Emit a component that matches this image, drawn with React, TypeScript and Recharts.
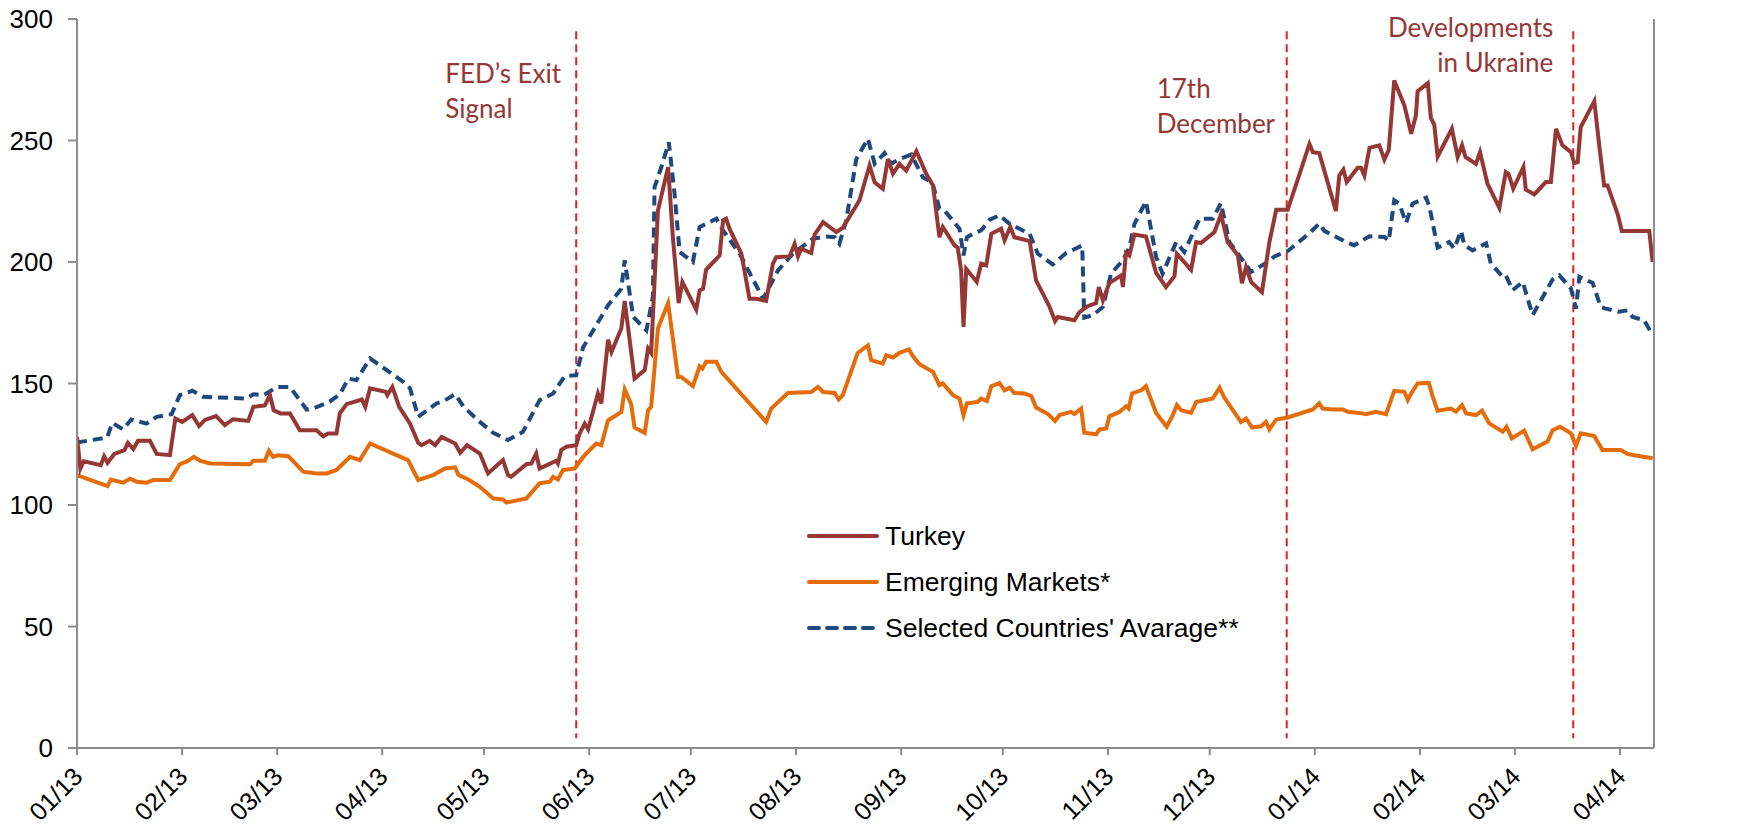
import React from "react";
import { LineChart, Line, XAxis, YAxis, ReferenceLine, Legend } from "recharts";

// day offsets counted from 1 Jan 2013
const monthTicks = [0, 31, 59, 90, 120, 151, 181, 212, 243, 273, 304, 334, 365, 396, 424, 455];
const monthLabels = [
  "01/13", "02/13", "03/13", "04/13", "05/13", "06/13", "07/13", "08/13",
  "09/13", "10/13", "11/13", "12/13", "01/14", "02/14", "03/14", "04/14",
];
const yTicks = [0, 50, 100, 150, 200, 250, 300];

const seriesNames = ["Turkey", "Emerging Markets*", "Selected Countries' Avarage**"];

// [day, index value]
const turkey: [number, number][] = [
  [0, 128], [1, 115], [2, 118], [7, 116.4], [8, 120], [9, 117.4], [11, 121], [14, 122.6], [15, 125.6],
  [16.6, 123], [18, 126.4], [21.5, 126.4], [23.5, 121], [27.4, 120.5], [29, 135.6], [31, 134.2], [34, 137],
  [36, 132.5], [37.7, 135], [41, 136.6], [43.6, 132.9], [46, 135.3], [50.5, 134.6], [52, 140.4], [55.4, 141],
  [56.9, 145.2], [58, 139], [60, 137.7], [62.8, 137.7], [65.7, 130.8], [70.6, 130.8], [72.6, 128.3], [74, 129.4],
  [76.5, 129.4], [77.5, 137.7], [79.5, 141.5], [84, 143.4], [85, 140.4], [86.4, 148], [91, 146.6], [91.5, 145.2],
  [93, 148.6], [95, 140.4], [98.2, 133.5], [100.6, 125.6], [101.6, 124.6], [104, 126.4], [105.6, 124.6],
  [107.5, 128], [111.5, 125.3], [113, 121.5], [115, 124.6], [118.8, 121.2], [121.2, 113], [125.6, 118.5],
  [127.1, 112.3], [128, 111.6], [132.5, 116.8], [134, 117.1], [135.4, 121.2], [136.4, 115], [141.3, 118.2],
  [141.8, 117.1], [142.8, 122.6], [144.3, 124], [147.2, 124.6], [148.2, 129.4], [149.7, 133.5], [150.7, 131.1],
  [153.6, 145.9], [154.6, 141.8], [156.6, 168], [157.6, 163], [160.5, 172.6], [161.5, 184], [164.4, 152],
  [167.4, 155.5], [168.4, 164.4], [169.3, 162.6], [171.3, 221.2], [174.3, 239], [175.7, 210.2], [177.4, 183.1],
  [178.5, 191.8], [182.6, 180.4], [183.6, 188.3], [184.6, 189], [185.5, 196.8], [189.5, 202.7], [190.5, 217.1],
  [191.4, 217.8], [192.4, 213.7], [195.9, 203.4], [198.3, 184.9], [200.3, 184.9], [203.2, 184], [205.2, 199.3],
  [206.2, 202], [210.1, 202.3], [211.6, 207.5], [212.6, 202.3], [213.5, 205.5], [216.5, 203.7], [217.5, 211.3],
  [220, 216.4], [223.9, 212.3], [225.8, 214.1], [230.7, 225.3], [233.7, 239.7], [235.2, 232.8], [237.6, 230.1],
  [239.1, 242.4], [240.6, 236.3], [242.5, 240.4], [244.5, 237.6], [247.5, 245.6], [250.4, 236.3], [252.4, 231.5],
  [254.3, 210.2], [255.3, 214.4], [258.8, 206.8], [259.7, 205.9], [260.7, 196.5], [261.4, 173.3], [262.2, 197.2],
  [265.3, 191.8], [266.6, 199.3], [268.1, 198.6], [269.6, 211.6], [272.5, 213.7], [273.5, 208.9], [275.2, 214.4],
  [276.4, 210.2], [280.9, 208.6], [282.8, 192.4], [286.7, 181.8], [288.4, 175.7], [289.2, 177.4], [294.1, 176],
  [295.6, 179.4], [298, 181.8], [300.5, 183.1], [301.3, 189.7], [302.5, 184.2], [304.4, 191.3], [307.9, 194.5],
  [308.4, 189.7], [309.3, 203.7], [310.3, 202.7], [311.8, 211.3], [315.2, 210.5], [318.2, 195.5], [321.1, 189.7],
  [323.6, 194.1], [324.3, 203.4], [328.5, 196.8], [330, 208.2], [331.4, 207.8], [335.4, 212.3], [337.3, 219.6],
  [339.3, 208.2], [342.3, 202.7], [343.5, 191.3], [344.7, 197.9], [346.2, 191.8], [349.4, 187.6], [351.6, 208.2],
  [353.6, 221.5], [357, 221.5], [363.4, 248.6], [364.4, 245.2], [366.3, 244.8], [371.2, 221], [372.2, 235.6],
  [373.4, 238], [374.4, 232.9], [377.6, 238.8], [378.6, 238.8], [379.6, 235.6], [381.1, 247], [384, 248],
  [385.5, 242.1], [386.8, 246.2], [388.4, 274.7], [391.4, 264.4], [393.4, 252.8], [394.8, 260.3], [395.3, 270.3],
  [398.3, 273.6], [399.2, 259.3], [400.2, 256.6], [401.2, 243.4], [405.4, 254.8], [407.1, 243.2], [408.4, 248],
  [409.4, 243.2], [412.5, 240.4], [413.7, 245.2], [415.9, 232.2], [419.4, 222.3], [421.3, 237], [422.1, 236.3],
  [423.5, 230.2], [426.5, 239.1], [427.2, 229.8], [429.7, 227.8], [433.1, 232.9], [434.6, 232.9], [436.1, 254.8],
  [438, 248], [440.5, 245.2], [441.5, 240.7], [442.5, 241.1], [443.4, 255.5], [447.4, 266.2], [448.9, 247.3],
  [450.3, 231.5], [451.3, 231.5], [454.3, 219.6], [455.5, 212.8], [463.6, 212.8], [464.6, 200],
];

const emerging: [number, number][] = [
  [0, 112.3], [9, 107.8], [10, 110.5], [13.6, 109.2], [15.6, 110.8], [17.6, 109.6], [20.5, 109.2], [22.5, 110.3],
  [27.4, 110.3], [30.3, 116.8], [32.3, 117.8], [34.5, 119.8], [36.2, 118.2], [39.2, 117.1], [51, 116.8],
  [52, 118.2], [55.4, 118.2], [56.6, 122.3], [57.8, 119.8], [59.3, 120.5], [62.3, 120.1], [66.7, 113.7],
  [70.6, 113], [73.6, 113], [76.5, 114.4], [80.5, 119.8], [83.4, 118.5], [86.4, 125.3], [97.6, 118.5],
  [100.6, 110.3], [105, 112.3], [108.5, 115], [111.5, 115.5], [112.5, 112.3], [115.4, 110.5], [118.8, 107.5],
  [122.7, 102.7], [125.6, 102.3], [126.6, 101], [132.5, 102.7], [136.4, 108.9], [139.4, 109.6], [140.4, 111.6],
  [141.8, 110.5], [143.3, 114.4], [146.7, 115], [149.7, 120.5], [153.1, 125.3], [154.6, 124.6], [156.6, 134.9],
  [160.5, 138.3], [161.5, 147.5], [163.4, 141.5], [164.4, 131.9], [167.4, 129.7], [168.4, 139], [169.3, 140.4],
  [171.3, 172.6], [174.3, 183.1], [177.2, 152.7], [178.2, 152.7], [181.6, 148.9], [183.6, 157.1], [184.4, 156.1],
  [185.5, 158.9], [188.5, 158.9], [190, 154.8], [203.2, 134.2], [204.7, 139.7], [209.6, 146.1], [216.5, 146.5],
  [218.5, 148.6], [220, 146.5], [223.4, 146.1], [224.6, 143.4], [225.8, 145.2], [230.2, 162.6], [233.2, 165.7],
  [234.2, 159.6], [237.6, 158.2], [238.6, 161.6], [240.6, 160.7], [242.5, 162.6], [245.3, 164], [246.5, 161.2],
  [248.4, 157.9], [252.4, 154.8], [254.3, 149.3], [255.3, 150], [258.3, 145.2], [260.2, 143.8], [261.4, 137],
  [262.4, 141.8], [265.6, 142.4], [266.6, 143.8], [268.3, 142.8], [269.6, 148.9], [272, 150.2], [273.5, 147.2],
  [275, 148.3], [276.4, 146.1], [279.4, 145.9], [281.4, 144.8], [282.8, 140.1], [286.3, 137.4], [288.4, 134.6],
  [289.7, 137], [293.1, 138.3], [294.1, 137.4], [296.1, 139.7], [297, 129.7], [300.5, 129.1], [301.5, 131.1],
  [303.5, 131.5], [304.4, 136.5], [307.4, 138.3], [309.3, 140.7], [310.1, 139.7], [311.1, 145.9], [313.8, 147.2],
  [315.2, 148.9], [318.2, 137.9], [321.3, 132.2], [323.1, 137], [324.3, 141.1], [325.6, 139], [328.5, 137.9],
  [330, 142.4], [334.9, 143.8], [336.9, 148.3], [338.3, 144.2], [343.2, 134.2], [344.7, 135.6], [346.5, 131.9],
  [349.1, 132.4], [350.6, 134.2], [351.6, 131.1], [353.6, 135.2], [357, 136], [364.4, 139.3], [366.3, 141.8],
  [367.3, 139.7], [370.3, 139.3], [373.2, 139.3], [374.7, 138.4], [378.1, 137.9], [380.1, 137.4], [383, 138.4],
  [386, 137.4], [388.4, 147], [391.4, 146.6], [392.4, 143.2], [393.4, 145.9], [395.3, 150], [398.6, 150.3],
  [399.7, 144.8], [401.2, 138.8], [405.1, 139.7], [406.6, 138.4], [408.4, 141.1], [409.6, 137.7], [412.5, 137],
  [414.3, 138.8], [416.4, 133.6], [420.4, 130.2], [421.5, 132.2], [423.1, 127.4], [426.7, 130.6], [429.2, 122.9],
  [433.6, 126.1], [435.1, 130.8], [437.3, 132.2], [440.5, 129.5], [442, 124.3], [443.4, 129.5], [447.4, 128.4],
  [449.8, 122.6], [455.2, 122.6], [457.2, 121], [458.7, 120.6], [464.6, 119.2],
];

const selected: [number, number][] = [
  [0, 125.7], [8.9, 127.8], [10.4, 133.8], [13.6, 131.1], [16, 135.2], [20.5, 133.5], [23.5, 136.3], [27.9, 137.4],
  [30.3, 145.2], [34, 147], [37.2, 144.5], [50, 143.8], [52, 145.6], [55, 145.2], [59, 148.6], [62.8, 148.6],
  [67.7, 139.3], [69.6, 139.7], [74.5, 142.5], [77.5, 145.6], [80, 152], [82.4, 151.4], [86.4, 160.3],
  [96.2, 150.7], [98.2, 148], [100.6, 136.3], [106, 141.8], [108.5, 143.1], [111.5, 145.6], [114, 140.4],
  [118.8, 134.2], [122.7, 129.7], [127.1, 126.7], [131.5, 130.1], [136.4, 143.1], [140.4, 145.9], [143.8, 153],
  [147.2, 153.4], [149.2, 164.8], [153.1, 174], [156.6, 182.2], [160.5, 189], [161.5, 200.7], [164, 177.4],
  [167.9, 171.9], [169.8, 185.6], [170.3, 230.8], [172.3, 239], [174.5, 249.3], [176.2, 228.1], [177.7, 204.1],
  [181.6, 200], [183.6, 214.4], [188.5, 217.8], [190.5, 213], [195.4, 203.4], [202.3, 184.9], [206.7, 196.5],
  [211.1, 203.4], [217, 209.6], [220.9, 210.5], [223.4, 210.2], [224.8, 207.5], [226.8, 217.1], [229.8, 242.4],
  [233.2, 250.7], [235.2, 240.4], [238.1, 244.8], [240.1, 240.4], [242.5, 242.4], [246, 244.2], [249.4, 234.9],
  [252.2, 232.8], [254.3, 221.9], [255.8, 221.2], [260.2, 213.7], [261.4, 202.7], [262.4, 210.2], [264.2, 211.6],
  [266.6, 213], [269.1, 217.4], [272, 219.2], [275, 215.7], [280.9, 211.6], [283.3, 203.4], [287.7, 199],
  [291.7, 203.7], [296.4, 206.8], [297, 177.1], [299.5, 178.1], [302.5, 181.5], [304.9, 195.2], [308.4, 200.7],
  [310.3, 205.9], [311.8, 215.7], [315.2, 225], [318.2, 202], [320.1, 195.2], [324.1, 208.2], [326.5, 204.1],
  [331, 217.8], [334.9, 217.8], [337.3, 224.2], [339.8, 208.2], [342.7, 202.7], [346.2, 195.9], [351.1, 200],
  [353.1, 202.3], [357, 204.5], [363.4, 211.9], [366.3, 215.8], [367.8, 212.8], [374.2, 208.2], [376.6, 206.9],
  [381.1, 210.6], [385.5, 210.3], [386.8, 208.7], [388.4, 225.4], [389.9, 224], [391.9, 216.1], [393.8, 224],
  [397.8, 226.5], [398.8, 222.6], [401.2, 205.9], [404.6, 208.2], [406.1, 205.5], [408.1, 212.8], [409.1, 206.9],
  [411.5, 204.8], [415.5, 207.6], [416.9, 199.3], [420.4, 193.9], [421.3, 194.5], [423.3, 188.4], [426.3, 191.8],
  [429.2, 178.1], [435.1, 192.8], [437.1, 194.5], [440.5, 189.1], [442, 180.8], [443, 193.9], [446.9, 191.4],
  [449.3, 181.5], [450.8, 180.8], [454.7, 179.5], [457.2, 180.1], [458.7, 177.4], [462.1, 176], [464.6, 169.9],
];

// event markers: day offset and the text shown next to each
const eventDays = [147.2, 356.7, 441.2];
const eventTexts = [
  ["FED’s Exit", "Signal"],
  ["17th", "December"],
  ["Developments", "in Ukraine"],
];

const toRows = (pts: [number, number][]) => pts.map(([d, v]) => ({ d, v }));

const AXIS = "#8c8c8c";
const FONT = '"Liberation Sans", Arial, sans-serif';
const COLORS = ["#953735", "#e46c0a", "#1f497d"];

// label placement for each event (offset from the dashed line, baselines)
const eventLayout = [
  { dx: -131, anchor: "start", base: [83, 118] },
  { dx: -130, anchor: "start", base: [98, 133] },
  { dx: -20, anchor: "end", base: [37, 72] },
];

const MonthTick = (props: any) => {
  const { x, y, payload } = props;
  const i = monthTicks.indexOf(payload.value);
  return (
    <text
      x={x}
      y={y}
      dy={10}
      textAnchor="end"
      transform={`rotate(-45, ${x}, ${y})`}
      fontSize={25}
      fontFamily={FONT}
      fill="#000"
    >
      {monthLabels[i]}
    </text>
  );
};

const LegendBox = () => (
  <div style={{ fontFamily: FONT, fontSize: 26.5, color: "#000" }}>
    {seriesNames.map((name, i) => (
      <div key={name} style={{ display: "flex", alignItems: "center", height: 46 }}>
        <svg width={72} height={8}>
          <line
            x1={2}
            x2={70}
            y1={4}
            y2={4}
            stroke={COLORS[i]}
            strokeWidth={4}
            strokeLinecap="round"
            strokeDasharray={i === 2 ? "10 8" : undefined}
          />
        </svg>
        <span style={{ marginLeft: 6, whiteSpace: "nowrap" }}>{name}</span>
      </div>
    ))}
  </div>
);

export default function App() {
  return (
    <div style={{ position: "absolute", left: 0, top: 0, width: 1738, height: 829, background: "#fff" }}>
      <LineChart width={1738} height={829} margin={{ top: 19, right: 0, bottom: 0, left: 0 }}>
        <XAxis
          type="number"
          dataKey="d"
          domain={[0, 465]}
          ticks={monthTicks}
          interval={0}
          height={81}
          tickSize={7}
          tickMargin={16}
          tick={<MonthTick />}
          axisLine={{ stroke: AXIS, strokeWidth: 2 }}
          tickLine={{ stroke: AXIS, strokeWidth: 2 }}
          allowDataOverflow
        />
        <YAxis
          yAxisId="left"
          domain={[0, 300]}
          ticks={yTicks}
          width={77}
          tickSize={9}
          tickMargin={15}
          tick={{ fill: "#000", fontSize: 26, fontFamily: FONT }}
          axisLine={{ stroke: AXIS, strokeWidth: 2 }}
          tickLine={{ stroke: AXIS, strokeWidth: 2 }}
        />
        <YAxis
          yAxisId="right"
          orientation="right"
          domain={[0, 300]}
          ticks={yTicks}
          width={84}
          tickSize={9}
          tickMargin={14}
          tick={{ fill: "#000", fontSize: 26, fontFamily: FONT }}
          axisLine={{ stroke: AXIS, strokeWidth: 2 }}
          tickLine={{ stroke: AXIS, strokeWidth: 2 }}
        />
        {eventDays.map((day, i) => (
          <ReferenceLine
            key={day}
            yAxisId="left"
            segment={[
              { x: day, y: 295 },
              { x: day, y: 4 },
            ]}
            stroke="#e0201c"
            strokeWidth={2}
            strokeDasharray="8 5"
            label={(p: any) => {
              const vx = p.viewBox ? p.viewBox.x : 0;
              const lay = eventLayout[i];
              return (
                <g>
                  {eventTexts[i].map((t, j) => (
                    <text
                      key={t}
                      x={vx + lay.dx}
                      y={lay.base[j]}
                      textAnchor={lay.anchor}
                      fontSize={26}
                      fontFamily="Lato, 'Open Sans', sans-serif"
                      fill="#953735"
                    >
                      {t}
                    </text>
                  ))}
                </g>
              );
            }}
          />
        ))}
        <Line
          yAxisId="left"
          data={toRows(emerging)}
          dataKey="v"
          name={seriesNames[1]}
          type="linear"
          dot={false}
          stroke={COLORS[1]}
          strokeWidth={4}
          isAnimationActive={false}
        />
        <Line
          yAxisId="left"
          data={toRows(selected)}
          dataKey="v"
          name={seriesNames[2]}
          type="linear"
          dot={false}
          stroke={COLORS[2]}
          strokeWidth={4}
          strokeDasharray="10 6"
          isAnimationActive={false}
        />
        <Line
          yAxisId="left"
          data={toRows(turkey)}
          dataKey="v"
          name={seriesNames[0]}
          type="linear"
          dot={false}
          stroke={COLORS[0]}
          strokeWidth={4}
          isAnimationActive={false}
        />
        <Legend
          layout="vertical"
          align="center"
          verticalAlign="middle"
          content={<LegendBox />}
          wrapperStyle={{ position: "absolute", left: 807, top: 513, width: 470 }}
        />
      </LineChart>
    </div>
  );
}
